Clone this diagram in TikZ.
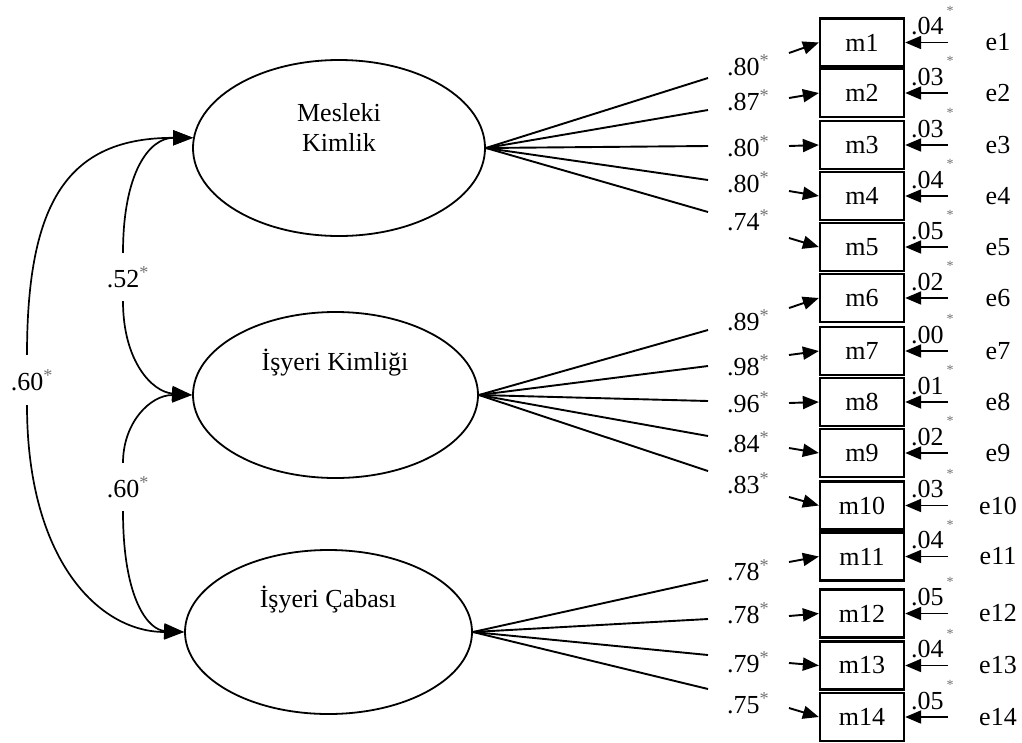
\documentclass[tikz,border=0pt]{standalone}
\usepackage{fontspec}
\setmainfont{Liberation Serif}
\usetikzlibrary{arrows.meta,shapes.geometric}
\begin{document}
\begin{tikzpicture}[x=1pt,y=-1pt,
  every node/.style={font=\fontsize{26}{30}\selectfont},
  latent/.style={draw,ellipse,line width=1.8pt,inner sep=0pt},
  lvtext/.style={align=center,inner sep=0pt},
  obs/.style={draw,rectangle,line width=2.3pt,minimum width=84pt,minimum height=48pt,inner sep=0pt},
  path/.style={line width=1.9pt},
  tip/.style={-{Triangle[length=16pt,width=13pt]}},
  cov/.style={line width=1.7pt},
  covtip/.style={-{Triangle[length=20pt,width=15pt]}},
  est/.style={inner sep=0pt,anchor=west},
  covlab/.style={inner sep=0pt,minimum height=48pt},
  star/.style={text=black!55,font=\fontsize{14}{14}\selectfont,inner sep=0pt},
]
\fill[white] (0,0) rectangle (1022,742);
\useasboundingbox (0,0) rectangle (1022,742);

% latent factors
\node[latent,minimum width=292pt,minimum height=176pt] (mk) at (339,148) {};
\node[lvtext] (mkt) at (339,127) {Mesleki\\Kimlik};
\node[latent,minimum width=285pt,minimum height=166pt] (ik) at (335.5,395) {};
\node[lvtext] (ikt) at (335,363) {İşyeri Kimliği};
\node[latent,minimum width=287pt,minimum height=164pt] (ck) at (328.5,632) {};
\node[lvtext] (ckt) at (328,600) {İşyeri Çabası};

% indicators, loadings and error terms
\foreach \k/\by/\ly/\tly/\ay/\ld/\vr/\src in {
  1/42.5/78/65/53/.80/.04/mk,
  2/93/110/100/98/.87/.03/mk,
  3/145/146/146/146/.80/.03/mk,
  4/196/180/182/191/.80/.04/mk,
  5/247/212/220/238/.74/.05/mk,
  6/298/330/320/308/.89/.02/ik,
  7/351/366/365/355/.98/.00/ik,
  8/402/401/402/403/.96/.01/ik,
  9/453/436/442/448/.84/.02/ik,
  10/505.5/471/483/497/.83/.03/ik,
  11/556.5/580/570/562/.78/.04/ck,
  12/613.5/619/613/616/.78/.05/ck,
  13/665.5/655/662/663/.79/.04/ck,
  14/717/689/703/708/.75/.05/ck}{
  \node[obs] (m\k) at (862,\by) {m\k};
  \coordinate (le\k) at (708,\ly);
  \draw[path] (\src.east) -- (le\k);
  \node[est] (lab\k) at (727,\tly) {\ld\textsuperscript{\color{black!55}*}};
  \coordinate (as\k) at (789,\ay);
  \draw[path,tip] (as\k) -- (m\k.west);
  \node (e\k) at (998,\by) {e\k};
  \coordinate (ee\k) at (948,\by);
  \draw[path,tip] (ee\k) -- (m\k.east);
  \node[est] (v\k) at (911,\by-16) {\vr};
  \node[star] (vs\k) at (950,\by-32) {*};
}

% factor covariances
\node[covlab] (l52) at (123,277) {.52\rlap{\textsuperscript{\color{black!55}*}}};
\node[covlab,minimum height=50pt] (l60a) at (27,380) {.60\rlap{\textsuperscript{\color{black!55}*}}};
\node[covlab] (l60b) at (123,487) {.60\rlap{\textsuperscript{\color{black!55}*}}};

\draw[cov,covtip] (l52.north) .. controls +(0,-80) and +(-44,0) .. (mk.176);
\draw[cov,covtip] (l52.south) .. controls +(0,60) and +(-40,-3) .. (ik.west);
\draw[cov,covtip] (l60b.north) .. controls +(0,-40) and +(-42,0) .. (ik.west);
\draw[cov,covtip] (l60b.south) .. controls +(0,90) and +(-35,-2) .. (ck.west);
\draw[cov,covtip] (l60a.north) .. controls +(0,-155) and +(-124,0) .. (mk.176);
\draw[cov,covtip] (l60a.south) .. controls +(0,155) and +(-85,0) .. (ck.west);
\end{tikzpicture}
\end{document}
